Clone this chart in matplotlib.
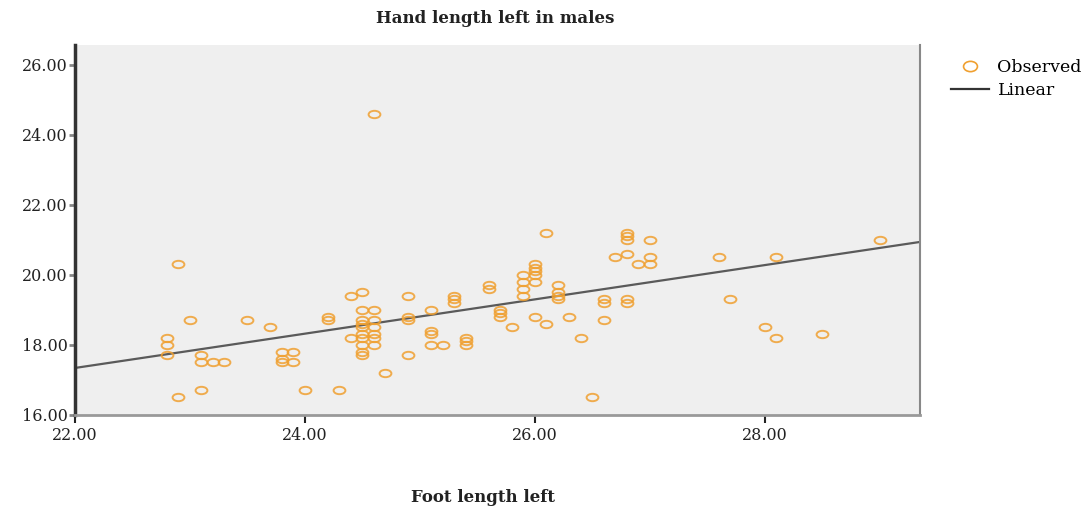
import matplotlib.pyplot as plt
from matplotlib.path import Path
from matplotlib.transforms import Affine2D
from matplotlib.lines import Line2D

# Foot length left (x) vs hand length left (y)
foot_left = [
    22.9, 22.8, 22.8, 22.8, 22.9, 23.0, 23.1, 23.1, 23.2, 23.3, 23.1,
    23.5, 23.7, 23.8, 23.8, 23.8, 23.9, 23.9, 24.0, 24.3, 24.2, 24.2,
    24.4, 24.5, 24.4,
    24.5, 24.5, 24.5, 24.5, 24.5, 24.5, 24.5, 24.5, 24.5,
    24.6, 24.6, 24.6, 24.6, 24.6, 24.6, 24.6,
    24.7, 24.9, 24.9, 24.9, 24.9, 25.1, 25.1, 25.1, 25.1, 25.2,
    25.3, 25.3, 25.3, 25.4, 25.4, 25.4, 25.6, 25.6, 25.7, 25.7, 25.7,
    25.8, 25.9, 25.9, 25.9, 25.9, 26.0, 26.0, 26.0, 26.0, 26.0,
    26.0, 26.1, 26.1, 26.2, 26.2, 26.2, 26.2, 26.3, 26.4, 26.5,
    26.6, 26.6, 26.6, 26.7, 26.8, 26.8, 26.8, 26.8, 26.8, 26.8,
    26.9, 27.0, 27.0, 27.0, 27.6, 27.7, 28.0, 28.1, 28.1, 28.5, 29.0,
]
hand_left = [
    20.3, 18.2, 18.0, 17.7, 16.5, 18.7, 17.7, 17.5, 17.5, 17.5, 16.7,
    18.7, 18.5, 17.8, 17.6, 17.5, 17.5, 17.8, 16.7, 16.7, 18.8, 18.7,
    19.4, 19.5, 18.2,
    19.0, 18.7, 18.6, 18.5, 18.3, 18.2, 18.0, 17.8, 17.7,
    19.0, 18.7, 18.5, 18.3, 18.2, 18.0, 24.6,
    17.2, 19.4, 18.8, 18.7, 17.7, 19.0, 18.4, 18.3, 18.0, 18.0,
    19.4, 19.3, 19.2, 18.2, 18.1, 18.0, 19.7, 19.6, 19.0, 18.9, 18.8,
    18.5, 20.0, 19.8, 19.6, 19.4, 20.3, 20.2, 20.1, 20.0, 19.8,
    18.8, 18.6, 21.2, 19.7, 19.5, 19.4, 19.3, 18.8, 18.2, 16.5,
    18.7, 19.3, 19.2, 20.5, 20.6, 21.2, 21.1, 21.0, 19.3, 19.2,
    20.3, 21.0, 20.5, 20.3, 20.5, 19.3, 18.5, 18.2, 20.5, 18.3, 21.0,
]

# fitted line as drawn in the chart (end points)
fit_x = [22.0, 29.35]
fit_y = [17.34, 20.94]

x_ticks = [22.0, 24.0, 26.0, 28.0]
y_ticks = [16.0, 18.0, 20.0, 22.0, 24.0, 26.0]

orange = '#f0a030'
serif = ['DejaVu Serif']

# flattened circle, the points look like little rings
ring = Path.unit_circle().transformed(Affine2D().scale(1.6, 1.0))
legend_ring = Path.unit_circle().transformed(Affine2D().scale(1.35, 1.0))

fig = plt.figure(figsize=(10.91, 5.16), dpi=100)
ax = fig.add_axes([0.0687, 0.196, 0.7745, 0.717])
ax.set_facecolor('#efefef')

ax.plot(foot_left, hand_left, linestyle='none', marker=ring, markersize=8.5,
        markerfacecolor='none', markeredgecolor=orange, markeredgewidth=1.4,
        alpha=0.85, zorder=3)
ax.plot(fit_x, fit_y, color='#5a5a5a', linewidth=1.6, zorder=2)

ax.set_xlim(22.0, 29.35)
ax.set_ylim(16.0, 26.57)
ax.set_xticks(x_ticks)
ax.set_yticks(y_ticks)
ax.set_xticklabels([f'{v:.2f}' for v in x_ticks], fontfamily=serif, fontsize=11.5,
                   color='#222222')
ax.set_yticklabels([f'{v:.2f}' for v in y_ticks], fontfamily=serif, fontsize=11.5,
                   color='#222222')
ax.tick_params(axis='y', length=4, width=2, color='#888888', pad=1)
ax.tick_params(axis='x', length=6, width=1.5, color='#222222', pad=3)

ax.spines['top'].set_visible(False)
ax.spines['left'].set_color('#333333')
ax.spines['left'].set_linewidth(2.5)
ax.spines['bottom'].set_color('#999999')
ax.spines['bottom'].set_linewidth(2)
ax.spines['right'].set_color('#888888')
ax.spines['right'].set_linewidth(1.5)

fig.text(0.454, 0.965, 'Hand length left in males', ha='center', va='center',
         fontfamily=serif, fontweight='bold', fontsize=12, color='#222222')
fig.text(0.443, 0.035, 'Foot length left', ha='center', va='center',
         fontfamily=serif, fontweight='bold', fontsize=12, color='#222222')

handles = [
    Line2D([], [], linestyle='none', marker=legend_ring, markersize=10,
           markerfacecolor='none', markeredgecolor=orange, markeredgewidth=1.2),
    Line2D([], [], color='#333333', linewidth=1.6),
]
fig.legend(handles, ['Observed', 'Linear'], loc='upper left',
           bbox_to_anchor=(0.857, 0.915), frameon=False, handlelength=2.2,
           handletextpad=0.5, labelspacing=0.3,
           prop={'family': serif, 'size': 12.5})

fig.savefig('out.png', dpi=100)
